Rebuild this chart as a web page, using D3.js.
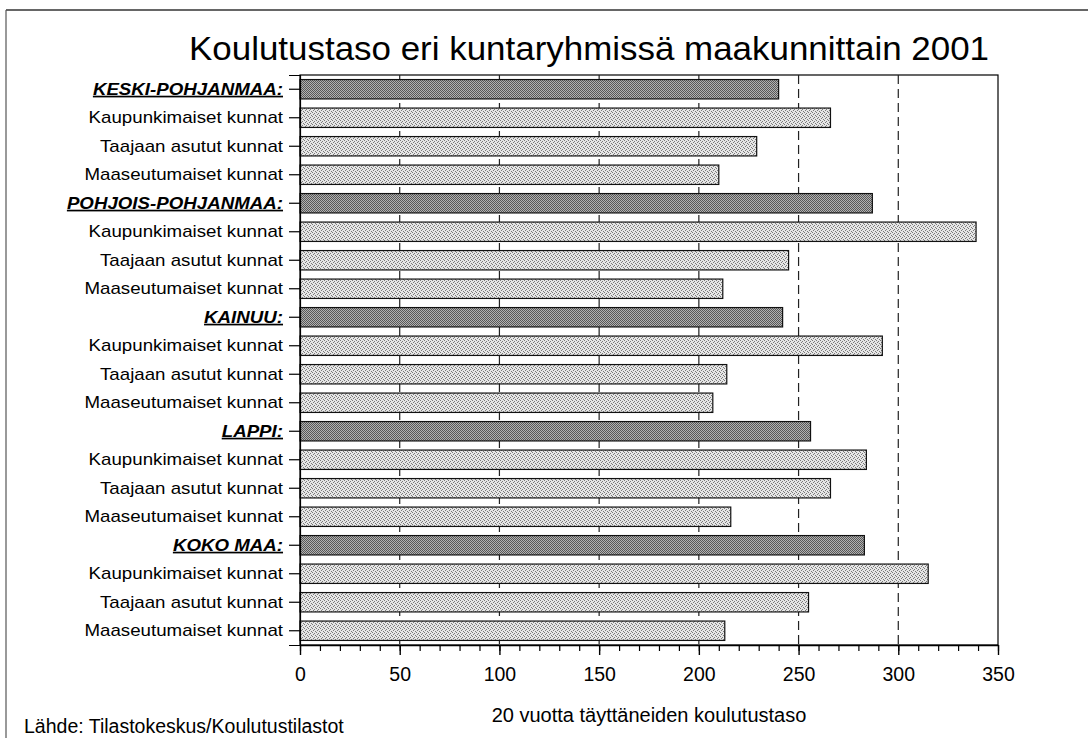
<!DOCTYPE html>
<html>
<head>
<meta charset="utf-8">
<script src="https://cdn.jsdelivr.net/npm/d3@7"></script>
<style>
  html, body { margin: 0; padding: 0; background: #fff; }
  svg { display: block; }
  text { font-family: "Liberation Sans", Arial, sans-serif; fill: #000; }
</style>
</head>
<body>
<svg id="chart" width="1088" height="738"></svg>
<script>
// ---- data ----
const title = "Koulutustaso eri kuntaryhmissä maakunnittain 2001";
const xAxisTitle = "20 vuotta täyttäneiden koulutustaso";
const sourceText = "Lähde: Tilastokeskus/Koulutustilastot";
const categories = [
  "KESKI-POHJANMAA:", "Kaupunkimaiset kunnat", "Taajaan asutut kunnat", "Maaseutumaiset kunnat",
  "POHJOIS-POHJANMAA:", "Kaupunkimaiset kunnat", "Taajaan asutut kunnat", "Maaseutumaiset kunnat",
  "KAINUU:", "Kaupunkimaiset kunnat", "Taajaan asutut kunnat", "Maaseutumaiset kunnat",
  "LAPPI:", "Kaupunkimaiset kunnat", "Taajaan asutut kunnat", "Maaseutumaiset kunnat",
  "KOKO MAA:", "Kaupunkimaiset kunnat", "Taajaan asutut kunnat", "Maaseutumaiset kunnat"
];
const isGroup = [
  true, false, false, false,
  true, false, false, false,
  true, false, false, false,
  true, false, false, false,
  true, false, false, false
];
const values = [
  240, 266, 229, 210,
  287, 339, 245, 212,
  242, 292, 214, 207,
  256, 284, 266, 216,
  283, 315, 255, 213
];
const xTicks = [0, 50, 100, 150, 200, 250, 300, 350];
const xMinorTicks = d3.range(0, 351, 10);

// ---- layout ----
const svg = d3.select("#chart");
const plot = { left: 300, right: 998, top: 75, bottom: 645 };

const x = d3.scaleLinear().domain([0, 350]).range([plot.left, plot.right]);
const y = d3.scaleBand().domain(d3.range(categories.length))
  .range([plot.top, plot.bottom]).paddingInner(0.32).paddingOuter(0.16);

// stipple patterns (scanned dither look)
const defs = svg.append("defs");
function pat(id, bg, dot, pts, size) {
  const p = defs.append("pattern").attr("id", id).attr("width", size).attr("height", size)
    .attr("patternUnits", "userSpaceOnUse");
  p.append("rect").attr("width", size).attr("height", size).attr("fill", bg);
  pts.forEach(([px, py]) => p.append("rect").attr("x", px).attr("y", py)
    .attr("width", 1).attr("height", 1).attr("fill", dot));
}
pat("darkPat", "#b2b2b2", "#585858", [[0,0],[2,0],[1,1],[3,1],[0,2],[2,2],[1,3],[3,3]], 4);
pat("lightPat", "#e6e6e6", "#7a7a7a", [[0,0],[2,1],[1,2],[3,3]], 4);

// outer frame (top and left)
svg.append("line").attr("x1", 6).attr("x2", 1088).attr("y1", 10).attr("y2", 10)
  .attr("stroke", "#333").attr("stroke-width", 1.5);
svg.append("line").attr("x1", 6).attr("x2", 6).attr("y1", 10).attr("y2", 738)
  .attr("stroke", "#555").attr("stroke-width", 1.2);

// title
svg.append("text").attr("x", 589).attr("y", 60)
  .attr("text-anchor", "middle").attr("font-size", 34)
  .attr("textLength", 800).attr("lengthAdjust", "spacingAndGlyphs")
  .text(title);

// plot frame
svg.append("rect").attr("x", plot.left).attr("y", plot.top)
  .attr("width", plot.right - plot.left).attr("height", plot.bottom - plot.top)
  .attr("fill", "none").attr("stroke", "#000").attr("stroke-width", 1.2);

// gridlines (dashed)
svg.append("g").selectAll("line").data(xTicks.filter(d => d > 0 && d < 350)).join("line")
  .attr("x1", d => x(d)).attr("x2", d => x(d))
  .attr("y1", plot.top).attr("y2", plot.bottom)
  .attr("stroke", "#222").attr("stroke-width", 1.2).attr("stroke-dasharray", "9,5");

// bars
svg.append("g").selectAll("rect").data(values).join("rect")
  .attr("x", x(0))
  .attr("y", (d, i) => y(i))
  .attr("width", d => x(d) - x(0))
  .attr("height", y.bandwidth())
  .attr("fill", (d, i) => isGroup[i] ? "url(#darkPat)" : "url(#lightPat)")
  .attr("stroke", "#111").attr("stroke-width", 1.2);

// y axis
const yAxis = d3.axisLeft(y).tickSize(11).tickPadding(6).tickFormat(i => categories[i]);
const gy = svg.append("g").attr("transform", `translate(${plot.left},0)`).call(yAxis);
gy.select(".domain").attr("stroke", "#000").attr("stroke-width", 1.2);
gy.selectAll(".tick line").attr("stroke", "#000").attr("stroke-width", 1.2);
gy.selectAll(".tick text")
  .attr("font-family", "'Liberation Sans', Arial, sans-serif")
  .attr("font-size", 17)
  .attr("fill", "#000")
  .attr("font-weight", i => isGroup[i] ? "bold" : "normal")
  .attr("font-style", i => isGroup[i] ? "italic" : "normal")
  .attr("text-decoration", i => isGroup[i] ? "underline" : "none")
  .each(function () {
    const w = this.getComputedTextLength();
    d3.select(this).attr("textLength", w * 1.1).attr("lengthAdjust", "spacingAndGlyphs");
  });

// x axis minor ticks
const gxm = svg.append("g").attr("transform", `translate(0,${plot.bottom})`)
  .call(d3.axisBottom(x).tickValues(xMinorTicks).tickSize(6).tickFormat(""));
gxm.select(".domain").remove();
gxm.selectAll(".tick line").attr("stroke", "#000").attr("stroke-width", 1.2);

// x axis major
const gx = svg.append("g").attr("transform", `translate(0,${plot.bottom})`)
  .call(d3.axisBottom(x).tickValues(xTicks).tickSize(10).tickSizeOuter(0).tickPadding(12));
gx.select(".domain").attr("stroke", "#000").attr("stroke-width", 1.4);
gx.selectAll(".tick line").attr("stroke", "#000").attr("stroke-width", 1.4);
gx.selectAll(".tick text")
  .attr("font-family", "'Liberation Sans', Arial, sans-serif")
  .attr("font-size", 19.5).attr("fill", "#000");

// axis title
svg.append("text").attr("x", (plot.left + plot.right) / 2).attr("y", 722)
  .attr("text-anchor", "middle").attr("font-size", 20).text(xAxisTitle);

// source
svg.append("text").attr("x", 24).attr("y", 733)
  .attr("font-size", 19.5).text(sourceText);
</script>
</body>
</html>
